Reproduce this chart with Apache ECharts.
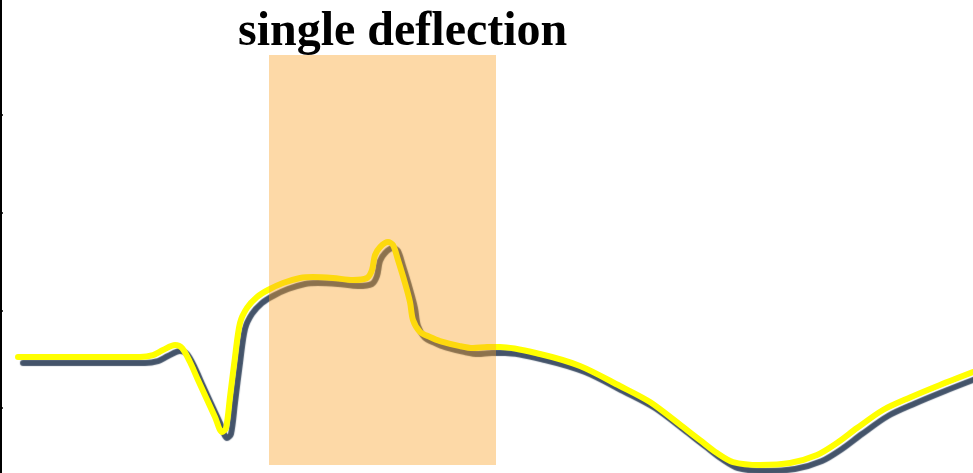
<!DOCTYPE html>
<html>
<head>
<meta charset="utf-8">
<script src="https://cdn.jsdelivr.net/npm/echarts@6/dist/echarts.min.js"></script>
<style>
html,body{margin:0;padding:0;background:#fff;}
#chart{width:973px;height:473px;}
</style>
</head>
<body>
<div id="chart"></div>
<script>
// time (ms) of each sample
var timeMs = [8.5, 29.5, 49.5, 69.5, 76, 81, 87, 90.5, 94.5, 98.5, 107, 110.5, 112.5, 114.5, 117, 119.5, 123, 128, 133.5, 141, 149.5, 156, 166, 176, 183, 185.5, 187, 189.5, 193.5, 196, 198.5, 202, 204.5, 206, 209.5, 214.5, 219.5, 229.5, 236, 243, 249.5, 269.5, 289.5, 309.5, 324.5, 341, 349.5, 358, 366, 379.5, 394.5, 408, 418, 428, 441, 454.5, 469.5, 486];
// signal amplitude (mV)
var amplitude = [0.522, 0.522, 0.522, 0.522, 0.542, 0.594, 0.645, 0.614, 0.471, 0.287, -0.092, -0.246, -0.205, 0.113, 0.522, 0.870, 1.024, 1.136, 1.208, 1.279, 1.331, 1.341, 1.331, 1.310, 1.331, 1.412, 1.566, 1.648, 1.699, 1.668, 1.515, 1.279, 1.085, 0.901, 0.78, 0.727, 0.685, 0.634, 0.614, 0.624, 0.624, 0.553, 0.430, 0.225, 0.061, -0.194, -0.328, -0.461, -0.553, -0.583, -0.563, -0.481, -0.358, -0.205, -0.020, 0.108, 0.236, 0.368];
// y-axis tick values
var yTicks = [0, 1, 2, 3];
// highlighted window [x0, x1] and [y0, y1]
var windowX = [134, 247.5];
var windowY = [-0.583, 3.613];
var titleText = 'single deflection';

var points = timeMs.map(function (t, i) { return [t, amplitude[i]]; });

var chart = echarts.init(document.getElementById('chart'));
chart.setOption({
  animation: false,
  title: {
    text: titleText,
    left: 233,
    top: 4,
    textStyle: {
      fontFamily: 'Liberation Serif',
      fontWeight: 'bold',
      fontSize: 48,
      color: '#000'
    }
  },
  grid: { left: 1, right: 0, top: 0, bottom: 0 },
  xAxis: {
    type: 'value',
    min: 0,
    max: 486,
    show: false
  },
  yAxis: {
    type: 'value',
    min: -0.665,
    max: 4.176,
    axisLine: { show: true, lineStyle: { color: '#000', width: 2 } },
    axisTick: { show: true, inside: true, length: 2, customValues: yTicks, lineStyle: { color: '#000', width: 1.5 } },
    axisLabel: { show: false },
    splitLine: { show: false }
  },
  series: [
    {
      type: 'line',
      z: 2,
      data: points,
      smooth: 0.3,
      symbol: 'none',
      lineStyle: {
        color: '#ffff00',
        width: 6,
        cap: 'round',
        join: 'round',
        shadowColor: '#44546a',
        shadowOffsetX: 5,
        shadowOffsetY: 6,
        shadowBlur: 1
      }
    },
    {
      type: 'custom',
      z: 10,
      silent: true,
      data: [[windowX[0], windowX[1], windowY[0], windowY[1]]],
      renderItem: function (params, api) {
        var p0 = api.coord([api.value(0), api.value(3)]);
        var p1 = api.coord([api.value(1), api.value(2)]);
        return {
          type: 'rect',
          shape: { x: p0[0], y: p0[1], width: p1[0] - p0[0], height: p1[1] - p0[1] },
          style: { fill: 'rgba(250,160,35,0.4)' }
        };
      },
      encode: { x: [0, 1], y: [2, 3] }
    }
  ]
});
</script>
</body>
</html>
